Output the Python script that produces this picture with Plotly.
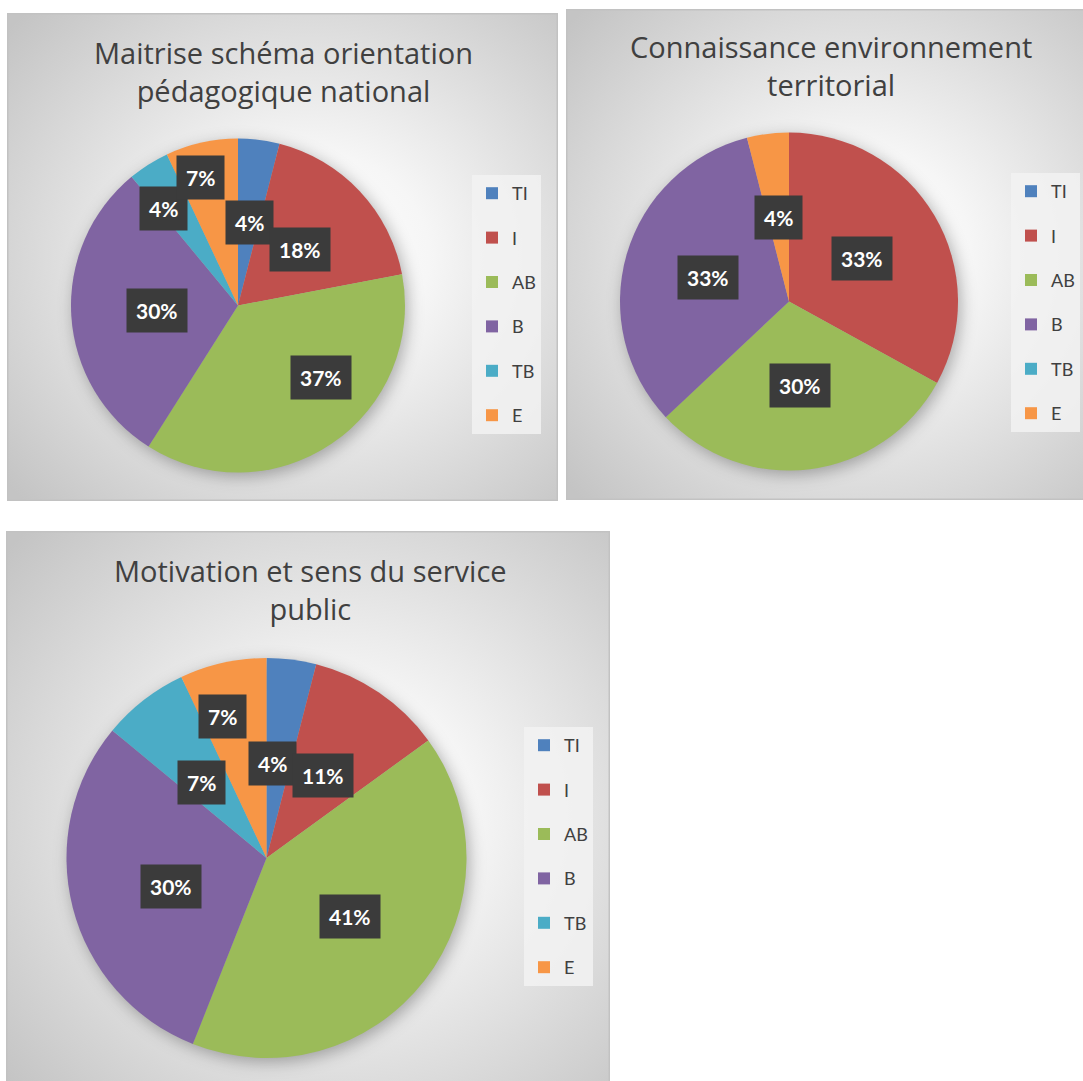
import math
import base64
import plotly.graph_objects as go

# ---------------- data ----------------
CATEGORIES = ["TI", "I", "AB", "B", "TB", "E"]
COLORS = ["#4F81BD", "#C0504D", "#9BBB59", "#8064A2", "#4BACC6", "#F79646"]

TITLE_1 = "Maitrise schéma orientation<br>pédagogique national"
TITLE_2 = "Connaissance environnement<br>territorial"
TITLE_3 = "Motivation et sens du service<br>public"

VALUES_1 = [4, 18, 37, 30, 4, 7]
VALUES_2 = [0, 33, 30, 33, 0, 4]
VALUES_3 = [4, 11, 41, 30, 7, 7]

# ---------------- layout (pixels) ----------------
W, H = 1083, 1081
PANELS = [
    dict(values=VALUES_1, title=TITLE_1,
         rect=(7, 13, 558, 501), center=(238, 305.5), radius=167,
         title_xy=(283, 71.5), legend_xy=(472, 175),
         # label placement tweaks: (radius fraction, angle delta deg)
         label_pos=[(0.50, 1), (0.50, 1), (0.66, -15), (0.485, 0), (0.73, -5), (0.80, -3.5)]),
    dict(values=VALUES_2, title=TITLE_2,
         rect=(566, 9, 1095, 500), center=(789, 301.5), radius=169,
         title_xy=(831, 65), legend_xy=(1011, 173),
         label_pos=[(0.5, 0)] * 6),
    dict(values=VALUES_3, title=TITLE_3,
         rect=(6, 531, 610, 1100), center=(266.5, 858), radius=200,
         title_xy=(310, 589.5), legend_xy=(524, 727),
         label_pos=[(0.475, -3.5), (0.5, 0), (0.51, -3), (0.5, -2), (0.5, -3), (0.74, -4.5)]),
]

TEXT_COLOR = "#404040"


def px_x(x):
    return x / W


def px_y(y):
    return 1 - y / H


def bg_svg(rect, center, radius):
    x0, y0, x1, y1 = rect
    w, h = x1 - x0, y1 - y0
    cx, cy = center[0] - x0 + 3, center[1] - y0 + 4
    svg = (
        f'<svg xmlns="http://www.w3.org/2000/svg" width="{w}" height="{h}" viewBox="0 0 {w} {h}">'
        '<defs><radialGradient id="g" cx="0.55" cy="0.5" r="0.72">'
        '<stop offset="0" stop-color="#ffffff"/><stop offset="0.3" stop-color="#f6f6f6"/>'
        '<stop offset="1" stop-color="#c4c4c4"/></radialGradient>'
        '<filter id="f" x="-30%" y="-30%" width="160%" height="160%">'
        '<feGaussianBlur stdDeviation="8"/></filter></defs>'
        f'<rect x="0" y="0" width="{w}" height="{h}" fill="url(#g)"/>'
        f'<circle cx="{cx}" cy="{cy}" r="{radius}" fill="#000" fill-opacity="0.30" filter="url(#f)"/>'
        f'<rect x="0.75" y="0.75" width="{w - 1.5}" height="{h - 1.5}" fill="none" '
        'stroke="#c2c2c2" stroke-width="1.5"/></svg>'
    )
    return "data:image/svg+xml;base64," + base64.b64encode(svg.encode()).decode()


fig = go.Figure()
images, annotations = [], []
legend_names = ["legend", "legend2", "legend3"]
layout_legends = {}

for k, p in enumerate(PANELS):
    x0, y0, x1, y1 = p["rect"]
    cx, cy = p["center"]
    r = p["radius"]
    images.append(dict(source=bg_svg(p["rect"], p["center"], r), xref="paper", yref="paper",
                       x=px_x(x0), y=px_y(y0), sizex=(x1 - x0) / W, sizey=(y1 - y0) / H,
                       xanchor="left", yanchor="top", sizing="stretch", layer="below"))

    fig.add_trace(go.Pie(
        labels=CATEGORIES, values=p["values"], sort=False, direction="clockwise", rotation=0,
        marker=dict(colors=COLORS, line=dict(width=0)), textinfo="none", hoverinfo="label+percent",
        showlegend=False,
        domain=dict(x=[px_x(cx - r), px_x(cx + r)], y=[px_y(cy + r), px_y(cy - r)]),
    ))

    # legend entries (one per category)
    lname = legend_names[k]
    for cat, col in zip(CATEGORIES, COLORS):
        fig.add_trace(go.Scatter(x=[None], y=[None], mode="markers", name=cat,
                                 marker=dict(symbol="square", size=12, color=col),
                                 legend=lname, legendgroup=f"{k}-{cat}", showlegend=True,
                                 hoverinfo="skip"))
    lx, ly = p["legend_xy"]
    layout_legends[lname] = dict(
        x=px_x(lx), y=px_y(ly), xanchor="left", yanchor="top",
        bgcolor="rgba(242,242,242,0.85)", borderwidth=0,
        font=dict(family="Lato, Carlito, sans-serif", size=18, color=TEXT_COLOR),
        tracegroupgap=18, itemclick=False, itemdoubleclick=False,
    )

    # title
    tx, ty = p["title_xy"]
    annotations.append(dict(text=p["title"], x=px_x(tx), y=px_y(ty), xref="paper", yref="paper",
                            xanchor="center", yanchor="middle", showarrow=False,
                            font=dict(family="Open Sans, sans-serif", size=29, color=TEXT_COLOR)))

    # data labels
    total = sum(p["values"])
    cum = 0
    for v, (frac, dang) in zip(p["values"], p["label_pos"]):
        start = cum
        cum += v
        if v == 0:
            continue
        mid = (start + v / 2) / total * 360 + dang
        d = frac * r
        lx_ = cx + d * math.sin(math.radians(mid))
        ly_ = cy - d * math.cos(math.radians(mid))
        pct = round(v / total * 100)
        annotations.append(dict(text=f"<b>{pct}%</b>", x=px_x(lx_), y=px_y(ly_),
                                xref="paper", yref="paper", xanchor="center", yanchor="middle",
                                showarrow=False, bgcolor="#3b3b3b", borderpad=9,
                                font=dict(family="Lato, sans-serif", size=21, color="white")))

fig.update_layout(
    width=W, height=H, margin=dict(l=0, r=0, t=0, b=0),
    paper_bgcolor="white", plot_bgcolor="rgba(0,0,0,0)",
    xaxis=dict(visible=False, domain=[0, 0.01]), yaxis=dict(visible=False, domain=[0, 0.01]),
    images=images, annotations=annotations, showlegend=True,
    **layout_legends,
)

fig.write_html("out.html", config={"displayModeBar": False},
               post_script="document.body.style.margin='0';document.body.style.overflow='hidden';")
